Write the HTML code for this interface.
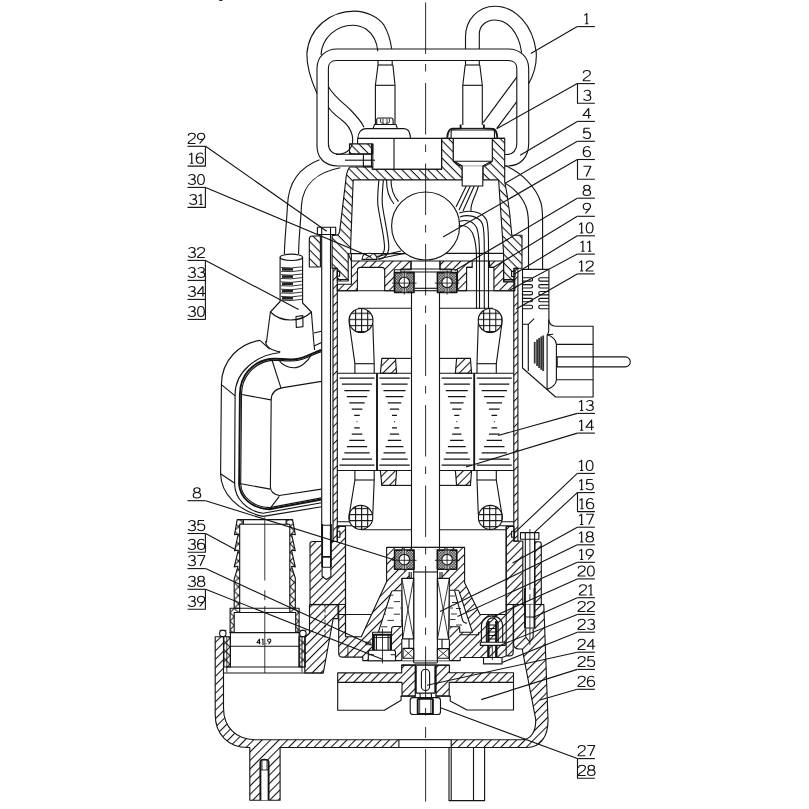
<!DOCTYPE html>
<html><head><meta charset="utf-8"><title>pump</title><style>
html,body{margin:0;padding:0;background:#fff;font-family:"Liberation Sans",sans-serif;}
svg{display:block}
svg path,svg circle,svg ellipse,svg line,svg rect{stroke:#141414;stroke-width:1.12;fill:none;stroke-linejoin:round}
svg .t path{stroke-width:1}
svg .nf{fill:none}
svg .w{fill:#fff}
svg .k{stroke-width:1.9}
svg .th{stroke-width:0.85}
svg .ns{stroke:none}
svg .lm{stroke-width:1.25}
svg text{font-family:"Liberation Sans",sans-serif;fill:#111;stroke:none}
</style></head><body>
<svg width="809" height="809" viewBox="0 0 809 809">
<rect class="ns" x="0" y="0" width="809" height="809" style="fill:#fff;stroke:none"/>

<defs>
<pattern id="h5" width="6.0" height="6.0" patternUnits="userSpaceOnUse" patternTransform="rotate(-45)"><line x1="0" y1="0.5" x2="6.0" y2="0.5" stroke="#222" stroke-width="0.9"/></pattern>
<pattern id="h6" width="6.0" height="6.0" patternUnits="userSpaceOnUse" patternTransform="rotate(-45)"><line x1="0" y1="0.5" x2="6.0" y2="0.5" stroke="#222" stroke-width="0.9"/></pattern>
<pattern id="h4" width="6.1" height="6.1" patternUnits="userSpaceOnUse" patternTransform="rotate(-45)"><line x1="0" y1="0.5" x2="6.1" y2="0.5" stroke="#222" stroke-width="0.9"/></pattern>
<pattern id="b5" width="6.1" height="6.1" patternUnits="userSpaceOnUse" patternTransform="rotate(45)"><line x1="0" y1="0.5" x2="6.1" y2="0.5" stroke="#222" stroke-width="0.9"/></pattern>
<pattern id="grid" width="6.1" height="6.1" patternUnits="userSpaceOnUse" patternTransform="translate(1.2 1.6)"><path d="M0 0.5H6.1M0.5 0V6.1"/></pattern>
<pattern id="xh" width="8.6" height="8.6" patternUnits="userSpaceOnUse" patternTransform="translate(229.9 2)"><path d="M0 0L8.6 8.6M8.6 0L0 8.6" style="stroke-width:1"/></pattern>
<pattern id="stip" width="1.6" height="1.6" patternUnits="userSpaceOnUse"><rect width="1.6" height="1.6" style="fill:#e4e4e4;stroke:none"/><rect width="0.8" height="0.8" style="fill:#222;stroke:none"/><rect x="0.8" y="0.8" width="0.8" height="0.8" style="fill:#222;stroke:none"/></pattern>
</defs>
<g id="lower">
<path  style="fill:url(#h6)" d="M215.2 636.7H223.5V707.7C223.5 727 236 739.7 255 739.7H522.2C531 739.7 536.5 731 535.6 718.6L522.2 649H519Q513.6 649 513.6 643.8V604.5H543.8L548 719C548.5 737 540 747.5 526.9 747.5H280.1V800.3H249.8V747.5H248C228 747.5 215.2 734 215.2 714.6Z"/>
<path style="fill:#fff" d="M398.9 739.7H451.2V747.5H398.9Z"/>
<path  style="fill:url(#h6)" d="M309.5 604.7H338V618.6H333.2L323.3 673H304.8V636.7L309.5 633.3Z"/>
<path class="th" stroke-dasharray="3 2" d="M325 604.7V640"/>
<path d="M223.8 673.0L323.3 673.0"/>
<path class="k" style="fill:#fff" d="M260.4 800.3V762Q260.4 759.6 264.5 759.6Q268.6 759.6 268.6 762V800.3"/>
<path class="th" d="M260.4 770H268.6M262 761V770M267 761V770"/>
<path d="M449 747.5V800.6H484.6V747.5M451.2 747.5V800.6M473.5 747.5V800.6"/>
<path  style="fill:url(#h5)" d="M310 544Q310 541.5 312.5 541.5H337.3V526.5H345.5V604.5H310Z"/>
<path d="M310.0 604.5L338.6 604.5"/>
<path style="fill:#fff;stroke:none" d="M321.7 541H330.5V574.7L326.1 578.7L321.7 574.7Z"/>
<path class="k" d="M322.1 524V567.3M330.9 524V567.3M322.1 556.9H330.9"/>
<path d="M322.1 567.3V576.5L326.5 579.5L330.9 576.5V567.3M322.1 567.3H330.9M322.1 525.3H330.9"/>
<path style="fill:#fff" d="M337.3 531.3H339.9V537.3H337.3Z"/>
<path  style="fill:url(#h5)" d="M506.2 526.5H514V541H522.8V604.5H506.2Z"/>
<path  style="fill:url(#h5)" d="M534.9 604.5V541.8H538.8Q541.3 541.8 541.3 544.3V604.5Z"/>
<path style="fill:#fff" d="M511.6 531.3H514.5V537.3H511.6Z"/>
<path d="M513.2 604.5L543.8 604.5"/>
<path style="fill:#fff" d="M520.5 532.6H538.9V539.3H520.5Z"/>
<path d="M525.3 532.6V539.3M534.6 532.6V539.3"/>
<path style="fill:#fff;stroke:none" d="M525 604.5H534.5V637L529.8 642L525 637Z"/>
<path d="M525.3 539.3V590M534.6 539.3V590"/>
<path class="k" d="M525 588V628.5M534.5 588V628.5"/>
<path d="M525.7 628.5V637.1L529.8 642L533.2 637.1V628.5"/>
<path d="M525.3 617H534.6M525.3 628H534.6"/>
<path class="th" d="M529.9 529V590M529.9 594V600M529.9 604V645"/>
<path  style="fill:url(#h5)" d="M386.6 547.4H464.6V582.8L480 614.5H506.2V604.5H513.2V652.5Q513.2 655.9 509.5 655.9H506.2L502 657.5H460.2V660.6H362.8V657.1H342Q338.7 657.1 338.7 653V604.5H345.5V636.7H361.3L386.6 581.8Z"/>
<path d="M345.5 526.5L345.5 636.7"/>
<path d="M506.2 526.5L506.2 655.9"/>
<path d="M338.9 614.5L371.6 614.5"/>
<path style="fill:#fff" d="M393 590.7H401.8V626.5H394.4Q391.6 626.5 391.6 629V632.3H378.3L391.2 592.5Q391.8 590.7 393 590.7Z"/>
<path style="fill:#fff" d="M458.2 590.2H449.4V626.8H459.7V632.3H472.5L459.2 591.7Q458.8 590.2 458.2 590.2Z"/>
<path d="M478.5 632.3V634.7H459.7"/>
<path d="M454.7 591.2L462.6 620.4Q463.5 623 467 623.3"/>
<path class="th" d="M390 595.2H393.4M400.8 595.2H402M393.8 601.6H400M387.4 608H393.4M400.3 608H402M384.5 614.2H386M393.8 614.2H400M387.4 620.4H394M400.8 620.4H402M381 626.8H387.4"/>
<path class="th" d="M450 596H455M452 602.5H458M449.5 608H453M456 608.5H461M451 614H457M450 619.5H455.5M456 625H462"/>
<path style="fill:#fff;stroke:none" d="M409.2 569.9H442V578.4H449.4V660.6H401.8V578.4H409.2Z"/>
<path style="fill:#fff;stroke:none" d="M394 549.5H457.4V569.9H394Z"/>
<path style="fill:#fff;stroke:none" d="M411.5 546.6H439.5V549.5H411.5Z"/>
<path d="M411.5 547.4L439.5 547.4"/>
<path d="M411.5 547.4V549.5M439.5 547.4V549.5"/>
<path d="M413.7 549.5V662.8M437.4 549.5V662.8"/>
<path d="M413.7 572.0L437.4 572.0"/>
<path style="stroke-width:1.6;fill:url(#stip)" d="M394.6 550.1H414.0V569.3H394.6Z"/>
<path style="fill:#fff;fill-opacity:0.5;stroke:none" d="M402.1 550.3H406.5V569.1H402.1Z"/>
<circle style="fill:#fff" cx="404.3" cy="559.7" r="5.3"/>
<path class="th" d="M404.3 548.0L404.3 571.4"/>
<path class="th" d="M392.0 560.3L416.6 560.3"/>
<path style="stroke:#555;stroke-width:0.7" d="M402.1 549.5V554.9M406.5 549.5V554.9M402.1 564.5V569.9M406.5 564.5V569.9"/>
<path style="stroke-width:1.6;fill:url(#stip)" d="M437.4 550.1H456.8V569.3H437.4Z"/>
<path style="fill:#fff;fill-opacity:0.5;stroke:none" d="M444.9 550.3H449.3V569.1H444.9Z"/>
<circle style="fill:#fff" cx="447.1" cy="559.7" r="5.3"/>
<path class="th" d="M447.1 548.0L447.1 571.4"/>
<path class="th" d="M434.8 560.3L459.4 560.3"/>
<path style="stroke:#555;stroke-width:0.7" d="M444.9 549.5V554.9M449.3 549.5V554.9M444.9 564.5V569.9M449.3 564.5V569.9"/>
<path d="M409.2 572V578.4H411.2V572M440 572V578.4H442 V572"/>
<path style="fill:#fff" d="M401.8 578.4H413.7L413.7 638.9H402.6Z"/>
<path class="th" d="M401.8 578.4L413.7 638.9M413.7 578.4L402.6 638.9"/>
<path style="fill:#fff" d="M437.4 578.4H449.4L448.6 639.2H437.4Z"/>
<path class="th" d="M437.4 578.4L448.6 639.2M449.4 578.4L437.4 639.2"/>
<path d="M409 638.9V648.4M442 639.2V648.4"/>
<path style="fill:#fff" d="M403.0 648.4H413.7L413.7 658.2H403.0Z"/>
<path class="th" d="M403.0 648.4L413.7 658.2M413.7 648.4L403.0 658.2"/>
<path style="fill:#fff" d="M437.4 648.6H449.0L449.0 658.3H437.4Z"/>
<path class="th" d="M437.4 648.6L449.0 658.3M449.0 648.6L437.4 658.3"/>
<path d="M401.8 638.9V660.6M449.4 639.2V660.6"/>
<path style="fill:#fff;stroke:none" d="M372.6 632.3H391.4V651H372.6Z"/>
<path d="M372.6 651V632.3H391.4V651"/>
<path class="k" d="M373.9 634.8H390.6V653.4H373.9Z"/>
<path d="M376.4 634.8V653.4M388.1 634.8V653.4"/>
<path class="th" d="M373.9 637.5H390.6M373.9 650.3H390.6"/>
<path style="fill:#fff" d="M368.3 652.5Q368.3 650.3 370.5 650.3H393.3Q395.5 650.3 395.5 652.5V660.8H368.3Z"/>
<path d="M368.3 654.8H373.9M390.6 654.8H395.5"/>
<path class="th" d="M382.5 628.7V663.3"/>
<path class="th" d="M347.9 644.7V657.1M365.8 642.2H370.8V644.7H365.8Z"/>
<path d="M481.4 642.2V626.5C481.4 620 486 615.9 492 615.9C498 615.9 502.7 620 502.7 626.5V642.2"/>
<path d="M486.4 642.2V626C486.4 621 489 617.9 492.2 617.9C495.4 617.9 498.2 621 498.2 626V642.2"/>
<path class="" style="stroke-width:2.4" d="M488.4 621V642.2M496.3 621V642.2"/>
<path d="M488.4 625H496.3M488.4 628.5H496.3M488.4 632H496.3M488.4 635.5H496.3M488.4 639H496.3"/>
<path style="fill:#fff" d="M480.3 642.2H505.2V645.4H480.3Z"/>
<path style="fill:#fff" d="M483.5 657.5H502V663.9H483.5Z"/>
<path class="" style="stroke-width:2.4" d="M488.4 645.4V657.5M496.3 645.4V657.5"/>
<path class="th" d="M492.3 646V660"/>
<path  style="fill:url(#h6)" d="M337.7 672.9H401.7V665.1H415.3V696H402V682.4H337.7Z"/>
<path d="M337.7 682.4V710.2H384.4L401.1 700.3V696"/>
<path  style="fill:url(#h6)" d="M513.5 672.8H449.4V665.2H436V696H449.2V682.4H513.5Z"/>
<path d="M513.5 682.4V710H467L450.2 701V696"/>
<path d="M401.5 665.1H449.5M415.8 693.1H435.3M400.6 696.1H415.8M435.3 696.1H450.4"/>
<path class="k" d="M415.8 666V693.1M435.3 666V693.1"/>
<path class="th" d="M413.7 662.8H437.4M414.5 664H436.6"/>
<rect x="421.4" y="669.3" width="8.2" height="21.2" rx="4.1" ry="4.1"/>
<path d="M420.1 693.1V698M431.4 693.1V698"/>
<rect style="fill:#fff" x="410.2" y="697.6" width="30.3" height="16.9" rx="2.8" ry="2.8"/>
<path class="k" d="M417.7 698.7V714M432.9 698.7V714M417.7 698.7H432.9M417.7 714H432.9"/>
<path class="th" d="M419.7 698.7V714M430.9 698.7V714"/>
</g>
<g id="outlet">
<path  style="fill:url(#xh)" d="M237.2 519.6L234.5 534.7L238.3 534.1L234.5 550.8L238.3 550.2L234.2 566.9L238 566.3L234.2 579.2V608.2H239.7V524.2L243.4 524.2L243.4 519.6Z"/>
<path  style="fill:url(#xh)" d="M292.6 519.6L295.3 534.7L291.5 534.1L295.3 550.8L291.5 550.2L295.3 566.9L291.5 566.3L295.3 578V608.2H289.8V524.2L286.1 524.2L286.1 519.6Z"/>
<path d="M237.2 519.6L292.6 519.6"/>
<path d="M243.4 524.2L286.1 524.2"/>
<path  style="fill:url(#xh)" d="M230.1 608.2H239.7V612.5H234.2V632.4H230.1Z"/>
<path  style="fill:url(#xh)" d="M299.1 608.2H289.8V612.5H295.7V632.4H299.1Z"/>
<path d="M239.7 608.2L289.8 608.2"/>
<path d="M234.2 612.5L295.7 612.5"/>
<path d="M229.5 632.6L300.0 632.6"/>
<circle cx="222.8" cy="633.5" r="3.2"/>
<circle cx="302.9" cy="633.5" r="3.2"/>
<path class="th" d="M219.5 630.3H226.5M299.8 630.3H306.5"/>
<path  style="fill:url(#xh)" d="M223.8 636.7H230.4V667H223.8Z"/>
<path  style="fill:url(#xh)" d="M299.1 636.7H305.2V667H299.1Z"/>
<path class="th" d="M226.8 636.7V672.5M302 636.7V672.5"/>
<path d="M230.4 646.3L299.1 646.3"/>
<path d="M226.0 667.0L303.5 667.0"/>
<path d="M230.4 632.6V667M299.1 632.6V667"/>
<path class="th" d="M264.8 517.4V580.5M264.8 590.3V600.2M264.8 606V673"/>
<path style="stroke-width:1.9" transform="translate(256.80 639) scale(0.55 0.52)" d="M4.9 10V0L.3 7H6.8"/>
<path style="stroke-width:1.9" transform="translate(261.00 639) scale(0.55 0.52)" d="M1.6 1.8L3.6 0V10M2.3 10H4.9"/>
<rect x="265.4" y="643.2" width="1" height="1" style="fill:#111;stroke:none"/>
<path style="stroke-width:1.9" transform="translate(267.40 639) scale(0.55 0.52)" d="M2.2 10L5.6 5.2C6.1 4.4 6.3 3.8 6.3 3.1C6.3 1.3 5.1 0 3.4 0C1.7 0 .5 1.3 .5 3.1C.5 4.9 1.7 6.1 3.3 6.1C4.3 6.1 5.2 5.7 5.8 4.9"/>
</g>
<g id="mid">
<path  style="fill:url(#b5)" d="M349.6 167H372.2V169.3H441.6V138.4H453.4V160.7L462.3 166V179.9H353.2L350.7 244V253.7H348.2V281H337.3V268.2H332.1V235.6L335.5 235.3C338 235.3 339 234.5 339.6 231.6L345.6 182C346 175 347.5 170 349.6 167Z"/>
<path  style="fill:url(#b5)" d="M320.4 236H312.5Q309.3 236 309.3 239.2V267H320.4Z"/>
<path  style="fill:url(#b5)" d="M483 179.9V166L492.2 160.7V138.4H504.7V181.7C508 198 510.3 216 511.8 235.3H522V268.2H514.8V281H503.6V253.4L498.6 179.9Z"/>
<path d="M348.2 253.7L351.4 261.0"/>
<path class="w" d="M317.4 227.2H335.7V234.5H317.4Z"/>
<path d="M321.7 227.2L321.7 234.5"/>
<path d="M330.5 227.2L330.5 234.5"/>
<path d="M321.7 234.5V540M330.5 234.5V540"/>
<path style="fill:#fff" d="M337.3 271.4H339.6V276.2H337.3Z"/>
<path style="fill:#fff" d="M511.6 271.4H514.8V276.6H511.6Z"/>
<circle cx="425.6" cy="226" r="34"/>
<path d="M351.4 261V253.6H405.5M445.8 253.4H503.6"/>
<path  style="fill:url(#h5)" d="M351.4 261H411V269.8H394.3V290.7H384.7V270.4Q384.7 267.4 381.7 267.4H360.4Q357.4 267.4 357.4 270.4V290.7H337.3V284.3H351.4Z"/>
<path  style="fill:url(#h5)" d="M440 261H472.2V267.4H466.6V290.7H457.5V269.8H440Z"/>
<path  style="fill:url(#h5)" d="M489.5 261H503.6V281.9H514.8V290.7H493.9V267.4H489.5Z"/>
<path d="M472.2 261.0L489.5 261.0"/>
<path d="M466.6 267.4H472M489.5 267.4H493.9"/>
<path d="M337.3 279.5L348.2 279.5"/>
<path d="M503.6 279.5L514.8 279.5"/>
<path d="M337.3 290.7L394.0 290.7"/>
<path d="M457.5 290.7L514.8 290.7"/>
<path d="M411 261H440M411 261V269M440 261V269"/>
<path d="M400.9 269H451.3V272H400.9Z"/>
<path style="stroke-width:1.6;fill:url(#stip)" d="M394.6 272.6H414.0V292.4H394.6Z"/>
<path style="fill:#fff;fill-opacity:0.5;stroke:none" d="M402.1 272.8H406.5V292.2H402.1Z"/>
<circle style="fill:#fff" cx="404.3" cy="282.5" r="5.3"/>
<path class="th" d="M404.3 270.5L404.3 294.5"/>
<path class="th" d="M392.0 283.1L416.6 283.1"/>
<path style="stroke:#555;stroke-width:0.7" d="M402.1 272.0V277.7M406.5 272.0V277.7M402.1 287.3V293.0M406.5 287.3V293.0"/>
<path style="stroke-width:1.6;fill:url(#stip)" d="M437.4 272.6H456.8V292.4H437.4Z"/>
<path style="fill:#fff;fill-opacity:0.5;stroke:none" d="M444.9 272.8H449.3V292.2H444.9Z"/>
<circle style="fill:#fff" cx="447.1" cy="282.5" r="5.3"/>
<path class="th" d="M447.1 270.5L447.1 294.5"/>
<path class="th" d="M434.8 283.1L459.4 283.1"/>
<path style="stroke:#555;stroke-width:0.7" d="M444.9 272.0V277.7M449.3 272.0V277.7M444.9 287.3V293.0M449.3 287.3V293.0"/>
<path d="M414.6 288.3L436.8 288.3"/>
<path d="M414.6 290.7L436.8 290.7"/>
<path class="w" d="M362 259.4C362 255 365 253.2 369.5 253.2C374 253.2 377 255 377 259.4Z"/>
<path class="th" d="M366 254.5L372.5 258.5M372.5 254.5L366 258.5"/>
<path d="M378.9 180C378 190 377 198 378 206C380 220 384 235 384.5 246C384.8 252 382 256 377.5 257.5"/>
<path d="M383.4 180C382.5 190 381.5 198 382.5 206C384.5 220 388.3 235 388.8 246C389 253 386 258 378.5 259.5"/>
<path d="M386.5 180C386.5 192 389 198 394 204M391 180C391 190 393.5 196 398.5 201.5"/>
<path d="M377 256.5L401 251M377.5 259L404 253.5"/>
<path d="M466.5 185.4L456 207M470.5 185.4L459 210M474.5 185.4L463 211M478.5 185.4C476 196 470 203 471 211"/>
<path d="M459.3 213C468 209.5 482 211 486.5 220C488.8 226 488.5 240 488.5 252V309"/>
<path d="M459.8 217C468 214 479 216 482.5 224C484.6 230 484.3 242 484.3 254V309"/>
<path d="M459.5 221.5C466 219 473.5 221 476.8 228C479 234 479.5 244 479.5 256V309"/>
<path d="M458.5 226C464 224.5 469 227 472.5 233C475.5 240 476.5 248 476.5 258V309"/>
<path  style="fill:url(#h4)" d="M333 268.2H337.3V541.5H333Z"/>
<path  style="fill:url(#h4)" d="M513.8 268.2H517.9V541.3H513.8Z"/>
</g>
<g id="top">
<path d="M391.7 49C390.5 40 388 32 384 25.2C378 17 366 11.1 354.3 11.1C330 11.1 309 28 306.9 53.4C306.5 66 311 80 317 93.4"/>
<path d="M377.8 51.2C377 42 373 34 366 29C361 26 357 25.2 352.8 25.2C337 25.2 322 37 321 54.9"/>
<path d="M465.5 49V37C465.5 20 478 6.2 494.9 6.2C515 6.2 533 25 536.2 52C537 63 534 74 528.7 83.8"/>
<path d="M479.3 49V34C479.3 26 486 20 494.9 20C508 20 519 33 521.6 52.7"/>
<path d="M378 60.5V65M392.2 60.5V65M465.5 60.5V65M479.3 60.5V65"/>
<path d="M328.6 87C335 98 345 104 350.6 110C356 115.5 361 121 364 127.2"/>
<path d="M328.6 107.5C333 114 338 117 341.7 120C347 124 351 130 352.3 135.6C353.2 141 352.5 145.5 350 148.8C347 152.6 342 154.3 336.1 154.4"/>
<path d="M516.8 77.1L483.2 122.6"/>
<path d="M516.8 101.6L496.8 128.4"/>
<path d="M372.2 166H338C325 166 317 158 317 146V68.5C317 57 325.5 49 337 49H508.2C520 49 528.7 57 528.7 68.5V143C528.7 157 521 166 507 166H504.7"/>
<path d="M372.2 154.2H338.5C332.5 154.2 328.4 150 328.4 144V68.2C328.4 63.5 331.5 60.5 336 60.5H508.2C513.5 60.5 516.8 63.5 516.8 68.2V144C516.8 150 512.9 154.5 506.9 154.5H504.7"/>
<path d="M345.0 160.2L375.0 160.2"/>
<path d="M319.5 159.7C300 167 288.5 182 287.5 205C286.5 225 284.5 240 284.4 254"/>
<path d="M340.3 167.8C318 172 303 184 301.5 205C300.5 225 298.6 240 298.6 254"/>
<path d="M505.5 165.8C520 172 536 186 541 203C542.6 209 542.6 214 542.6 222V269"/>
<path d="M505 183.2C514 188 524 198 527 210C528.5 216 528.5 220 528.5 226V269"/>
<path d="M378 65L375.4 85.3V124.5M392.9 65L395 85.3V124.5"/>
<path d="M378.0 65.0L392.9 65.0"/>
<path d="M375.5 85.3L394.7 85.3"/>
<path d="M465.2 65L462.8 85.3V125M479.8 65L482.3 85.3V125"/>
<path d="M465.2 65.0L479.8 65.0"/>
<path d="M462.8 85.3L482.3 85.3"/>
<path d="M357.8 138.4C358 133 361 128.6 366 128.6H404C409 128.6 410.3 133 410.5 138.4"/>
<path d="M373.1 128.4L374.5 124.5H396L397.3 128.4"/>
<path d="M376.7 124.5V120Q376.7 118 378.7 118H391.1Q393.1 118 393.1 120V124.5"/>
<path class="th" d="M380.6 118.6V122.3L385 124.4L389.4 122.3V118.6M383 118.6V123.2M387 118.6V123.2"/>
<path d="M357.6 138.4H441.6V169.3H372.2"/>
<path d="M357.6 138.4L357.6 144.1"/>
<path d="M394.0 138.4L394.0 169.3"/>
<path d="M372.8 143.9L372.8 168.6"/>
<path  style="fill:url(#b5)" d="M349.5 143.9H372.8V153.9H349.5Z"/>
<path d="M363.4 153.9V166.7H372.8M371.5 143.9V166.7"/>
<path style="fill:#fff;stroke:none" d="M451.1 130H494.5V138.4H492.3V161.2H453.3V138.4H451.1Z"/>
<path d="M453.3 138.4V161.2H492.3V138.4"/>
<path d="M453.3 161.2C456 164 459 166.2 462.2 166.2H482.8C486 166.2 489.5 164 492.3 161.2"/>
<path d="M441.7 138.4L504.6 138.4"/>
<path class="w" d="M462.2 166.2V186H482.8V166.2"/>
<path class="k" d="M447.2 137.8C447.5 133 449 129.5 452.2 128.7L460.6 128.4V124.5M497.3 137.8C497 133 495.5 129.6 493.4 128.9L483.9 128.4V124.5"/>
<path d="M451.1 138.4V132Q451.1 130 453 130H492.5Q494.5 130 494.5 132V138.4"/>
<path d="M460.6 128.4L483.9 128.4"/>
</g>
<g id="motor">
<path d="M411.5 293V547.4M439.5 293V547.4"/>
<path d="M358.0 308.2L411.5 308.2"/>
<path d="M439.5 308.2L493.0 308.2"/>
<path d="M337.3 373.2L411.5 373.2"/>
<path d="M439.5 373.2L513.8 373.2"/>
<path d="M337.3 470.5L411.5 470.5"/>
<path d="M439.5 470.5L513.8 470.5"/>
<path class="k" d="M377 373.2V470.5M474.2 373.2V470.5"/>
<path class="lm" d="M339.5 378.0H374.5M341.9 384.2H372.1M344.4 390.5H369.6M346.8 396.7H367.2M349.3 402.9H364.7M351.7 409.1H362.3M354.2 415.4H359.8M356.6 421.6H357.4M354.2 427.8H359.8M351.7 434.1H362.3M349.3 440.3H364.7M346.8 446.5H367.2M344.4 452.8H369.6M341.9 459.0H372.1M339.5 465.2H374.5"/>
<path class="lm" d="M379.3 378.0H409.7M381.4 384.2H407.6M383.5 390.5H405.5M385.6 396.7H403.4M387.8 402.9H401.2M389.9 409.1H399.1M392.0 415.4H397.0M394.1 421.6H394.9M392.0 427.8H397.0M389.9 434.1H399.1M387.8 440.3H401.2M385.6 446.5H403.4M383.5 452.8H405.5M381.4 459.0H407.6M379.3 465.2H409.7"/>
<path class="lm" d="M441.6 378.0H472.0M443.7 384.2H469.9M445.8 390.5H467.8M447.9 396.7H465.7M450.1 402.9H463.5M452.2 409.1H461.4M454.3 415.4H459.3M456.4 421.6H457.2M454.3 427.8H459.3M452.2 434.1H461.4M450.1 440.3H463.5M447.9 446.5H465.7M445.8 452.8H467.8M443.7 459.0H469.9M441.6 465.2H472.0"/>
<path class="lm" d="M476.8 378.0H511.8M479.2 384.2H509.4M481.7 390.5H506.9M484.1 396.7H504.5M486.6 402.9H502.0M489.0 409.1H499.6M491.5 415.4H497.1M493.9 421.6H494.7M491.5 427.8H497.1M489.0 434.1H499.6M486.6 440.3H502.0M484.1 446.5H504.5M481.7 452.8H506.9M479.2 459.0H509.4M476.8 465.2H511.8"/>
<path  style="fill:url(#h5)" d="M381.8 358.4H395.5L396.6 373.2H380.4Z"/>
<path d="M395.5 358.4L411.5 358.4"/>
<path  style="fill:url(#h5)" d="M456.6 358.4H470.4L471.6 373.2H455.4Z"/>
<path d="M439.5 358.4L456.6 358.4"/>
<path  style="fill:url(#h5)" d="M380.4 470.5H396.6L395.5 485.4H381.8Z"/>
<path d="M395.5 485.4L411.5 485.4"/>
<path  style="fill:url(#h5)" d="M455.4 470.5H471.6L470.4 485.4H456.6Z"/>
<path d="M439.5 485.4L456.6 485.4"/>
<path d="M349.3 323.5L354.9 363.7V373.2M372.8 323.5L374.2 363.7V373.2"/>
<path d="M354.9 363.7L374.2 363.7"/>
<path d="M478.3 323.5L477 363.7V373.2M501.9 323.5L496.3 363.7V373.2"/>
<path d="M477.0 363.7L496.3 363.7"/>
<circle style="fill:url(#grid)" cx="361" cy="320.5" r="12"/>
<circle style="fill:url(#grid)" cx="490.2" cy="320.5" r="12"/>
<path d="M354.9 470.5V480L349.3 514.5M374.2 470.5V480L372.8 514.5"/>
<path d="M354.9 480.0L374.2 480.0"/>
<path d="M477 470.5V480L478.3 514.5M496.3 470.5V480L501.9 514.5"/>
<path d="M477.0 480.0L496.3 480.0"/>
<circle style="fill:url(#grid)" cx="360.8" cy="517.4" r="12"/>
<circle style="fill:url(#grid)" cx="490.4" cy="517.4" r="12"/>
<path d="M361.0 529.7L411.5 529.7"/>
<path d="M439.5 529.7L506.2 529.7"/>
<path d="M337.3 521.7H349.6M337.3 525.7H352"/>
<path d="M502 521.7H513.8M499.5 525.7H513.8"/>
</g>
<g id="float">
<path d="M260 340.4C240 343 221.4 360 221.4 384.6L220.6 473.8C221 494 238 511 263.2 516.4L321.5 506.8"/>
<path d="M280.1 352.5C256 355 235.1 372 235.1 394.3L234.6 484C235 499 247 511 263.2 513.2L321.5 502.8"/>
<path class="k" d="M321.5 350C314 352 305 358.5 295 359.3C285 360 278 358 269.6 359C252 362 239.9 376 239.9 394.3L239.1 484.3C240 498 252 508.5 269.6 509.2L321.5 499.5"/>
<path d="M321.5 351.6C314 353.6 305 360 295 360.8C285 361.5 278 359.6 270 360.6C253.5 363.6 241.5 377 241.5 394.5L240.7 484.3C241.5 496.8 253 507 269.8 507.6L321.5 497.9"/>
<path d="M321.5 381.4L283 387.6Q271.2 389.6 271.2 400L270.4 487Q270.4 493.5 279.3 495.5L321.5 489.1"/>
<path d="M272 360L280.9 387.9M240.5 394.3L271 399.9M221.4 384.6L235.1 395.9M260 340.4L269.6 349.2M220.6 473.8L235.1 483.5M239.5 483.5L270.4 489.1M279.3 496.3L269.6 509.2"/>
<path d="M266.4 342.5L265.6 341.5C266 347 272 350.5 280.3 351.8"/>
<path d="M279.3 360.5C282 365 288 367.8 293.7 367.8C300 367.8 308 362 311.4 354.5"/>
<path d="M313.8 342.5L314.6 350M313.8 333L321.5 331.2M314.6 345.8L321.5 342.5"/>
<path style="fill:#fff;stroke:none" d="M270.4 312L266.4 342.5H313.8L311.4 312L302.6 303V257.3C302.6 255.5 297 254.1 291.4 254.1C285.8 254.1 280.1 255.5 280.1 257.3V301.5Z"/>
<path d="M266.4 342.5L270.4 312L280.1 301.5V257.3C280.1 255.5 285.8 254.1 291.4 254.1C297 254.1 302.6 255.5 302.6 257.3V303L311.4 312L313.8 342.5"/>
<path d="M280.1 257.3C280.1 259.2 285.5 260.5 291.4 260.5C297.3 260.5 302.6 259.2 302.6 257.3"/>
<path d="M270.4 312C276 317.5 284 320 290.5 320C298 320 306 317.5 311.4 312"/>
<path style="fill:#222;stroke:none" d="M282 268.1H293V270.7H282Z"/>
<path class="th" d="M281 267.5Q291 268.8 302 266.8M281 271.3Q291 272.4 302 270.4"/>
<path style="fill:#222;stroke:none" d="M282 275.3H293V277.9H282Z"/>
<path class="th" d="M281 274.7Q291 276.0 302 274.0M281 278.5Q291 279.6 302 277.6"/>
<path style="fill:#222;stroke:none" d="M282 282.5H293V285.1H282Z"/>
<path class="th" d="M281 281.9Q291 283.2 302 281.2M281 285.7Q291 286.8 302 284.8"/>
<path style="fill:#222;stroke:none" d="M282 289.8H293V292.4H282Z"/>
<path class="th" d="M281 289.2Q291 290.5 302 288.5M281 293.0Q291 294.1 302 292.1"/>
<path style="fill:#222;stroke:none" d="M282 297.0H293V299.6H282Z"/>
<path class="th" d="M281 296.4Q291 297.7 302 295.7M281 300.2Q291 301.3 302 299.3"/>
<path d="M296 316.5L302.8 315.6L303 326.6L296.3 327.5Z"/>
</g>
<g id="plug">
<path class="w" d="M522.5 269.4H548.9V319.5Q548.9 326.2 556.4 326.2H593.1V397H555.6L522.5 368Z"/>
<path d="M522.5 277.7H530.9A1.7 1.7 0 0 1 530.9 281.1H522.5"/>
<path d="M548.9 277.7H540.4A1.7 1.7 0 0 0 540.4 281.1H548.9"/>
<path d="M522.5 284.6H530.9A1.7 1.7 0 0 1 530.9 288.0H522.5"/>
<path d="M548.9 284.6H540.4A1.7 1.7 0 0 0 540.4 288.0H548.9"/>
<path d="M522.5 291.5H530.9A1.7 1.7 0 0 1 530.9 294.9H522.5"/>
<path d="M548.9 291.5H540.4A1.7 1.7 0 0 0 540.4 294.9H548.9"/>
<path d="M522.5 298.4H530.9A1.7 1.7 0 0 1 530.9 301.8H522.5"/>
<path d="M548.9 298.4H540.4A1.7 1.7 0 0 0 540.4 301.8H548.9"/>
<path d="M522.5 305.3H530.9A1.7 1.7 0 0 1 530.9 308.7H522.5"/>
<path d="M548.9 305.3H540.4A1.7 1.7 0 0 0 540.4 308.7H548.9"/>
<path d="M548.7 319.5V330.7Q548.7 333.5 547.1 334.7M547.1 334.7L553.2 334.2"/>
<path d="M547.1 334.7V389.4"/>
<path d="M547.1 334.7C552 336 556.4 340 556.4 344.4V379.7C556.4 384 552 388 547.1 389.4"/>
<path d="M556.4 344.4H593.1M556.4 379.7H593.1"/>
<path style="fill:#fff" d="M557.2 356.9H625.3A5 5 0 0 1 625.3 366.9H557.2Z"/>
<path d="M593.1 356.9L593.1 366.9"/>
<path d="M522.4 324.3H528.3V370.9M528.3 324.3L534.2 318.7"/>
<path style="stroke:#333;stroke-width:1.8" d="M534.7 342V363.6M537.1 339.5V366M539.1 338V368M541.2 336.5V369.8M543.2 335.5V370.9"/>
</g>
<rect x="219.3" y="0" width="3.1" height="0.9" style="fill:#111;stroke:none"/>
<path class="th" style="stroke-width:0.9" stroke-dasharray="51.5 10 7.5 11.5" d="M425.6 2.5V738"/>
<path class="th" style="stroke-width:0.9" d="M425.6 749V801.5"/>
<g id="labels">
<g class="t"><path transform="translate(582.36 13.60) scale(1.233 1.020)" d="M1.6 1.8L3.6 0V10M2.3 10H4.9"/></g>
<path d="M577.3 26.6L594.9 26.6"/>
<path d="M577.3 26.6L530.8 53.5"/>
<g class="t"><path transform="translate(582.66 70.60) scale(1.233 1.020)" d="M.6 2.5C.6 .9 1.8 0 3.4 0C5 0 6.2 .9 6.2 2.5C6.2 4 5.3 5 3.6 6.2C1.6 7.6 .5 8.6 .5 10H6.4"/></g>
<path d="M577.3 83.6L594.9 83.6"/>
<g class="t"><path transform="translate(582.96 90.20) scale(1.233 1.020)" d="M.8 1.6C1.4 .6 2.3 0 3.4 0C5 0 6 1 6 2.4C6 3.8 5 4.7 3.2 4.7C5.2 4.7 6.3 5.8 6.3 7.3C6.3 8.9 5.1 10 3.4 10C2.1 10 1 9.4 .4 8.3"/></g>
<path d="M577.5 83.6V103.2H594.9"/>
<path d="M577.3 83.6L496.6 128.8"/>
<g class="t"><path transform="translate(582.66 108.40) scale(1.233 1.020)" d="M4.9 10V0L.3 7H6.8"/></g>
<path d="M577.3 121.4L594.9 121.4"/>
<path d="M577.3 121.4L520.1 155.3"/>
<g class="t"><path transform="translate(582.66 128.30) scale(1.233 1.020)" d="M5.8 0H1.2L.8 4.5C1.4 3.8 2.4 3.5 3.4 3.5C5.1 3.5 6.3 4.8 6.3 6.7C6.3 8.6 5.1 10 3.4 10C2.1 10 1 9.4 .4 8.3"/></g>
<path d="M577.3 141.3L594.9 141.3"/>
<path d="M577.3 141.3L505.3 183.2"/>
<g class="t"><path transform="translate(582.66 146.50) scale(1.233 1.020)" d="M5.8 1.2C5.3 .4 4.5 0 3.6 0C1.5 0 .5 2.2 .5 5.5C.5 8.5 1.6 10 3.4 10C5.1 10 6.3 8.7 6.3 6.9C6.3 5.1 5.1 3.9 3.5 3.9C2 3.9 .7 5 .5 6.5"/></g>
<path d="M577.3 159.5L594.9 159.5"/>
<g class="t"><path transform="translate(582.96 166.30) scale(1.233 1.020)" d="M.4 0H6.4L2.6 10"/></g>
<path d="M577.5 159.5V179.3H594.9"/>
<path d="M577.3 159.5L443.0 237.0"/>
<g class="t"><path transform="translate(582.66 185.20) scale(1.233 1.020)" d="M3.4 0C1.9 0 .9 1 .9 2.3C.9 3.6 1.9 4.6 3.4 4.6C4.9 4.6 5.9 3.6 5.9 2.3C5.9 1 4.9 0 3.4 0ZM3.4 4.6C1.6 4.6 .4 5.7 .4 7.3C.4 8.9 1.6 10 3.4 10C5.2 10 6.4 8.9 6.4 7.3C6.4 5.7 5.2 4.6 3.4 4.6Z"/></g>
<path d="M577.3 198.2L594.9 198.2"/>
<path d="M577.3 198.2L455.0 270.5"/>
<g class="t"><path transform="translate(582.66 203.30) scale(1.233 1.020)" d="M2.2 10L5.6 5.2C6.1 4.4 6.3 3.8 6.3 3.1C6.3 1.3 5.1 0 3.4 0C1.7 0 .5 1.3 .5 3.1C.5 4.9 1.7 6.1 3.3 6.1C4.3 6.1 5.2 5.7 5.8 4.9"/></g>
<path d="M577.3 216.3L594.9 216.3"/>
<path d="M577.3 216.3L494.0 267.0"/>
<g class="t"><path transform="translate(577.21 222.80) scale(1.233 1.020)" d="M1.6 1.8L3.6 0V10M2.3 10H4.9"/><path transform="translate(585.56 222.80) scale(1.233 1.020)" d="M3.3 0C1.5 0 .6 2 .6 5C.6 8 1.5 10 3.3 10C5.1 10 6 8 6 5C6 2 5.1 0 3.3 0Z"/></g>
<path d="M577.3 235.8L594.9 235.8"/>
<path d="M577.3 235.8L513.7 274.6"/>
<g class="t"><path transform="translate(578.46 241.10) scale(1.233 1.020)" d="M1.6 1.8L3.6 0V10M2.3 10H4.9"/><path transform="translate(585.26 241.10) scale(1.233 1.020)" d="M1.6 1.8L3.6 0V10M2.3 10H4.9"/></g>
<path d="M577.3 254.1L594.9 254.1"/>
<path d="M577.3 254.1L510.0 290.0"/>
<g class="t"><path transform="translate(577.21 260.90) scale(1.233 1.020)" d="M1.6 1.8L3.6 0V10M2.3 10H4.9"/><path transform="translate(585.56 260.90) scale(1.233 1.020)" d="M.6 2.5C.6 .9 1.8 0 3.4 0C5 0 6.2 .9 6.2 2.5C6.2 4 5.3 5 3.6 6.2C1.6 7.6 .5 8.6 .5 10H6.4"/></g>
<path d="M577.3 273.9L594.9 273.9"/>
<path d="M577.3 273.9L516.2 309.0"/>
<g class="t"><path transform="translate(577.21 400.40) scale(1.233 1.020)" d="M1.6 1.8L3.6 0V10M2.3 10H4.9"/><path transform="translate(585.56 400.40) scale(1.233 1.020)" d="M.8 1.6C1.4 .6 2.3 0 3.4 0C5 0 6 1 6 2.4C6 3.8 5 4.7 3.2 4.7C5.2 4.7 6.3 5.8 6.3 7.3C6.3 8.9 5.1 10 3.4 10C2.1 10 1 9.4 .4 8.3"/></g>
<path d="M577.3 413.4L594.9 413.4"/>
<path d="M577.3 413.4L498.2 435.5"/>
<g class="t"><path transform="translate(577.21 420.10) scale(1.233 1.020)" d="M1.6 1.8L3.6 0V10M2.3 10H4.9"/><path transform="translate(585.56 420.10) scale(1.233 1.020)" d="M4.9 10V0L.3 7H6.8"/></g>
<path d="M577.3 433.1L594.9 433.1"/>
<path d="M577.3 433.1L466.0 467.0"/>
<g class="t"><path transform="translate(577.21 460.40) scale(1.233 1.020)" d="M1.6 1.8L3.6 0V10M2.3 10H4.9"/><path transform="translate(585.56 460.40) scale(1.233 1.020)" d="M3.3 0C1.5 0 .6 2 .6 5C.6 8 1.5 10 3.3 10C5.1 10 6 8 6 5C6 2 5.1 0 3.3 0Z"/></g>
<path d="M577.3 473.4L594.9 473.4"/>
<path d="M577.3 473.4L514.8 532.7"/>
<g class="t"><path transform="translate(577.21 479.60) scale(1.233 1.020)" d="M1.6 1.8L3.6 0V10M2.3 10H4.9"/><path transform="translate(585.56 479.60) scale(1.233 1.020)" d="M5.8 0H1.2L.8 4.5C1.4 3.8 2.4 3.5 3.4 3.5C5.1 3.5 6.3 4.8 6.3 6.7C6.3 8.6 5.1 10 3.4 10C2.1 10 1 9.4 .4 8.3"/></g>
<path d="M577.3 492.6L594.9 492.6"/>
<g class="t"><path transform="translate(577.51 498.60) scale(1.233 1.020)" d="M1.6 1.8L3.6 0V10M2.3 10H4.9"/><path transform="translate(585.86 498.60) scale(1.233 1.020)" d="M5.8 1.2C5.3 .4 4.5 0 3.6 0C1.5 0 .5 2.2 .5 5.5C.5 8.5 1.6 10 3.4 10C5.1 10 6.3 8.7 6.3 6.9C6.3 5.1 5.1 3.9 3.5 3.9C2 3.9 .7 5 .5 6.5"/></g>
<path d="M577.5 492.6V511.6H594.9"/>
<path d="M577.3 492.6L534.1 532.7"/>
<g class="t"><path transform="translate(577.21 514.20) scale(1.233 1.020)" d="M1.6 1.8L3.6 0V10M2.3 10H4.9"/><path transform="translate(585.56 514.20) scale(1.233 1.020)" d="M.4 0H6.4L2.6 10"/></g>
<path d="M577.3 527.2L594.9 527.2"/>
<path d="M577.3 527.2L512.6 563.0"/>
<g class="t"><path transform="translate(577.21 531.80) scale(1.233 1.020)" d="M1.6 1.8L3.6 0V10M2.3 10H4.9"/><path transform="translate(585.56 531.80) scale(1.233 1.020)" d="M3.4 0C1.9 0 .9 1 .9 2.3C.9 3.6 1.9 4.6 3.4 4.6C4.9 4.6 5.9 3.6 5.9 2.3C5.9 1 4.9 0 3.4 0ZM3.4 4.6C1.6 4.6 .4 5.7 .4 7.3C.4 8.9 1.6 10 3.4 10C5.2 10 6.4 8.9 6.4 7.3C6.4 5.7 5.2 4.6 3.4 4.6Z"/></g>
<path d="M577.3 544.8L594.9 544.8"/>
<path d="M577.3 544.8L440.0 611.5"/>
<g class="t"><path transform="translate(577.21 549.30) scale(1.233 1.020)" d="M1.6 1.8L3.6 0V10M2.3 10H4.9"/><path transform="translate(585.56 549.30) scale(1.233 1.020)" d="M2.2 10L5.6 5.2C6.1 4.4 6.3 3.8 6.3 3.1C6.3 1.3 5.1 0 3.4 0C1.7 0 .5 1.3 .5 3.1C.5 4.9 1.7 6.1 3.3 6.1C4.3 6.1 5.2 5.7 5.8 4.9"/></g>
<path d="M577.3 562.3L594.9 562.3"/>
<path d="M577.3 562.3L457.5 616.5"/>
<g class="t"><path transform="translate(577.51 565.90) scale(1.233 1.020)" d="M.6 2.5C.6 .9 1.8 0 3.4 0C5 0 6.2 .9 6.2 2.5C6.2 4 5.3 5 3.6 6.2C1.6 7.6 .5 8.6 .5 10H6.4"/><path transform="translate(586.81 565.90) scale(1.233 1.020)" d="M3.3 0C1.5 0 .6 2 .6 5C.6 8 1.5 10 3.3 10C5.1 10 6 8 6 5C6 2 5.1 0 3.3 0Z"/></g>
<path d="M577.3 578.9L594.9 578.9"/>
<path d="M577.3 578.9L492.3 617.0"/>
<g class="t"><path transform="translate(578.76 584.70) scale(1.233 1.020)" d="M.6 2.5C.6 .9 1.8 0 3.4 0C5 0 6.2 .9 6.2 2.5C6.2 4 5.3 5 3.6 6.2C1.6 7.6 .5 8.6 .5 10H6.4"/><path transform="translate(586.51 584.70) scale(1.233 1.020)" d="M1.6 1.8L3.6 0V10M2.3 10H4.9"/></g>
<path d="M577.3 597.7L594.9 597.7"/>
<path d="M577.3 597.7L533.0 617.5"/>
<g class="t"><path transform="translate(577.51 601.40) scale(1.233 1.020)" d="M.6 2.5C.6 .9 1.8 0 3.4 0C5 0 6.2 .9 6.2 2.5C6.2 4 5.3 5 3.6 6.2C1.6 7.6 .5 8.6 .5 10H6.4"/><path transform="translate(586.81 601.40) scale(1.233 1.020)" d="M.6 2.5C.6 .9 1.8 0 3.4 0C5 0 6.2 .9 6.2 2.5C6.2 4 5.3 5 3.6 6.2C1.6 7.6 .5 8.6 .5 10H6.4"/></g>
<path d="M577.3 614.4L594.9 614.4"/>
<path d="M577.3 614.4L501.2 645.0"/>
<g class="t"><path transform="translate(577.51 619.20) scale(1.233 1.020)" d="M.6 2.5C.6 .9 1.8 0 3.4 0C5 0 6.2 .9 6.2 2.5C6.2 4 5.3 5 3.6 6.2C1.6 7.6 .5 8.6 .5 10H6.4"/><path transform="translate(586.81 619.20) scale(1.233 1.020)" d="M.8 1.6C1.4 .6 2.3 0 3.4 0C5 0 6 1 6 2.4C6 3.8 5 4.7 3.2 4.7C5.2 4.7 6.3 5.8 6.3 7.3C6.3 8.9 5.1 10 3.4 10C2.1 10 1 9.4 .4 8.3"/></g>
<path d="M577.3 632.2L594.9 632.2"/>
<path d="M577.3 632.2L502.0 662.5"/>
<g class="t"><path transform="translate(577.51 639.20) scale(1.233 1.020)" d="M.6 2.5C.6 .9 1.8 0 3.4 0C5 0 6.2 .9 6.2 2.5C6.2 4 5.3 5 3.6 6.2C1.6 7.6 .5 8.6 .5 10H6.4"/><path transform="translate(586.81 639.20) scale(1.233 1.020)" d="M4.9 10V0L.3 7H6.8"/></g>
<path d="M577.3 652.2L594.9 652.2"/>
<path d="M577.3 652.2L427.0 685.3"/>
<g class="t"><path transform="translate(577.51 656.40) scale(1.233 1.020)" d="M.6 2.5C.6 .9 1.8 0 3.4 0C5 0 6.2 .9 6.2 2.5C6.2 4 5.3 5 3.6 6.2C1.6 7.6 .5 8.6 .5 10H6.4"/><path transform="translate(586.81 656.40) scale(1.233 1.020)" d="M5.8 0H1.2L.8 4.5C1.4 3.8 2.4 3.5 3.4 3.5C5.1 3.5 6.3 4.8 6.3 6.7C6.3 8.6 5.1 10 3.4 10C2.1 10 1 9.4 .4 8.3"/></g>
<path d="M577.3 669.4L594.9 669.4"/>
<path d="M577.3 669.4L481.2 699.6"/>
<g class="t"><path transform="translate(577.51 676.30) scale(1.233 1.020)" d="M.6 2.5C.6 .9 1.8 0 3.4 0C5 0 6.2 .9 6.2 2.5C6.2 4 5.3 5 3.6 6.2C1.6 7.6 .5 8.6 .5 10H6.4"/><path transform="translate(586.81 676.30) scale(1.233 1.020)" d="M5.8 1.2C5.3 .4 4.5 0 3.6 0C1.5 0 .5 2.2 .5 5.5C.5 8.5 1.6 10 3.4 10C5.1 10 6.3 8.7 6.3 6.9C6.3 5.1 5.1 3.9 3.5 3.9C2 3.9 .7 5 .5 6.5"/></g>
<path d="M577.3 689.3L594.9 689.3"/>
<path d="M577.3 689.3L540.0 700.0"/>
<g class="t"><path transform="translate(577.51 745.60) scale(1.233 1.020)" d="M.6 2.5C.6 .9 1.8 0 3.4 0C5 0 6.2 .9 6.2 2.5C6.2 4 5.3 5 3.6 6.2C1.6 7.6 .5 8.6 .5 10H6.4"/><path transform="translate(586.81 745.60) scale(1.233 1.020)" d="M.4 0H6.4L2.6 10"/></g>
<path d="M577.3 758.6L594.9 758.6"/>
<g class="t"><path transform="translate(577.81 765.30) scale(1.233 1.020)" d="M.6 2.5C.6 .9 1.8 0 3.4 0C5 0 6.2 .9 6.2 2.5C6.2 4 5.3 5 3.6 6.2C1.6 7.6 .5 8.6 .5 10H6.4"/><path transform="translate(587.11 765.30) scale(1.233 1.020)" d="M3.4 0C1.9 0 .9 1 .9 2.3C.9 3.6 1.9 4.6 3.4 4.6C4.9 4.6 5.9 3.6 5.9 2.3C5.9 1 4.9 0 3.4 0ZM3.4 4.6C1.6 4.6 .4 5.7 .4 7.3C.4 8.9 1.6 10 3.4 10C5.2 10 6.4 8.9 6.4 7.3C6.4 5.7 5.2 4.6 3.4 4.6Z"/></g>
<path d="M577.5 758.6V778.3H594.9"/>
<path d="M577.3 758.6L440.5 707.8"/>
<g class="t"><path transform="translate(187.61 133.30) scale(1.233 1.020)" d="M.6 2.5C.6 .9 1.8 0 3.4 0C5 0 6.2 .9 6.2 2.5C6.2 4 5.3 5 3.6 6.2C1.6 7.6 .5 8.6 .5 10H6.4"/><path transform="translate(196.91 133.30) scale(1.233 1.020)" d="M2.2 10L5.6 5.2C6.1 4.4 6.3 3.8 6.3 3.1C6.3 1.3 5.1 0 3.4 0C1.7 0 .5 1.3 .5 3.1C.5 4.9 1.7 6.1 3.3 6.1C4.3 6.1 5.2 5.7 5.8 4.9"/></g>
<path d="M187.5 146.3L205.6 146.3"/>
<g class="t"><path transform="translate(187.31 153.10) scale(1.233 1.020)" d="M1.6 1.8L3.6 0V10M2.3 10H4.9"/><path transform="translate(195.66 153.10) scale(1.233 1.020)" d="M5.8 1.2C5.3 .4 4.5 0 3.6 0C1.5 0 .5 2.2 .5 5.5C.5 8.5 1.6 10 3.4 10C5.1 10 6.3 8.7 6.3 6.9C6.3 5.1 5.1 3.9 3.5 3.9C2 3.9 .7 5 .5 6.5"/></g>
<path d="M205.4 146.3V166.1H187.5"/>
<path d="M205.6 146.3L326.7 231.2"/>
<g class="t"><path transform="translate(187.61 174.40) scale(1.233 1.020)" d="M.8 1.6C1.4 .6 2.3 0 3.4 0C5 0 6 1 6 2.4C6 3.8 5 4.7 3.2 4.7C5.2 4.7 6.3 5.8 6.3 7.3C6.3 8.9 5.1 10 3.4 10C2.1 10 1 9.4 .4 8.3"/><path transform="translate(196.91 174.40) scale(1.233 1.020)" d="M3.3 0C1.5 0 .6 2 .6 5C.6 8 1.5 10 3.3 10C5.1 10 6 8 6 5C6 2 5.1 0 3.3 0Z"/></g>
<path d="M187.5 187.4L205.6 187.4"/>
<g class="t"><path transform="translate(188.86 194.40) scale(1.233 1.020)" d="M.8 1.6C1.4 .6 2.3 0 3.4 0C5 0 6 1 6 2.4C6 3.8 5 4.7 3.2 4.7C5.2 4.7 6.3 5.8 6.3 7.3C6.3 8.9 5.1 10 3.4 10C2.1 10 1 9.4 .4 8.3"/><path transform="translate(196.61 194.40) scale(1.233 1.020)" d="M1.6 1.8L3.6 0V10M2.3 10H4.9"/></g>
<path d="M205.4 187.4V207.4H187.5"/>
<path d="M205.6 187.4L370.9 257.0"/>
<g class="t"><path transform="translate(187.61 247.40) scale(1.233 1.020)" d="M.8 1.6C1.4 .6 2.3 0 3.4 0C5 0 6 1 6 2.4C6 3.8 5 4.7 3.2 4.7C5.2 4.7 6.3 5.8 6.3 7.3C6.3 8.9 5.1 10 3.4 10C2.1 10 1 9.4 .4 8.3"/><path transform="translate(196.91 247.40) scale(1.233 1.020)" d="M.6 2.5C.6 .9 1.8 0 3.4 0C5 0 6.2 .9 6.2 2.5C6.2 4 5.3 5 3.6 6.2C1.6 7.6 .5 8.6 .5 10H6.4"/></g>
<path d="M187.5 260.4L205.6 260.4"/>
<g class="t"><path transform="translate(187.61 267.40) scale(1.233 1.020)" d="M.8 1.6C1.4 .6 2.3 0 3.4 0C5 0 6 1 6 2.4C6 3.8 5 4.7 3.2 4.7C5.2 4.7 6.3 5.8 6.3 7.3C6.3 8.9 5.1 10 3.4 10C2.1 10 1 9.4 .4 8.3"/><path transform="translate(196.91 267.40) scale(1.233 1.020)" d="M.8 1.6C1.4 .6 2.3 0 3.4 0C5 0 6 1 6 2.4C6 3.8 5 4.7 3.2 4.7C5.2 4.7 6.3 5.8 6.3 7.3C6.3 8.9 5.1 10 3.4 10C2.1 10 1 9.4 .4 8.3"/></g>
<path d="M187.5 280.4L205.6 280.4"/>
<g class="t"><path transform="translate(187.61 286.40) scale(1.233 1.020)" d="M.8 1.6C1.4 .6 2.3 0 3.4 0C5 0 6 1 6 2.4C6 3.8 5 4.7 3.2 4.7C5.2 4.7 6.3 5.8 6.3 7.3C6.3 8.9 5.1 10 3.4 10C2.1 10 1 9.4 .4 8.3"/><path transform="translate(196.91 286.40) scale(1.233 1.020)" d="M4.9 10V0L.3 7H6.8"/></g>
<path d="M187.5 299.4L205.6 299.4"/>
<g class="t"><path transform="translate(187.61 306.40) scale(1.233 1.020)" d="M.8 1.6C1.4 .6 2.3 0 3.4 0C5 0 6 1 6 2.4C6 3.8 5 4.7 3.2 4.7C5.2 4.7 6.3 5.8 6.3 7.3C6.3 8.9 5.1 10 3.4 10C2.1 10 1 9.4 .4 8.3"/><path transform="translate(196.91 306.40) scale(1.233 1.020)" d="M3.3 0C1.5 0 .6 2 .6 5C.6 8 1.5 10 3.3 10C5.1 10 6 8 6 5C6 2 5.1 0 3.3 0Z"/></g>
<path d="M187.5 319.4L205.6 319.4"/>
<path d="M205.4 260.4L205.4 319.4"/>
<path d="M205.6 260.4L298.6 309.5"/>
<g class="t"><path transform="translate(192.76 487.70) scale(1.233 1.020)" d="M3.4 0C1.9 0 .9 1 .9 2.3C.9 3.6 1.9 4.6 3.4 4.6C4.9 4.6 5.9 3.6 5.9 2.3C5.9 1 4.9 0 3.4 0ZM3.4 4.6C1.6 4.6 .4 5.7 .4 7.3C.4 8.9 1.6 10 3.4 10C5.2 10 6.4 8.9 6.4 7.3C6.4 5.7 5.2 4.6 3.4 4.6Z"/></g>
<path d="M187.5 500.7L205.6 500.7"/>
<path d="M205.6 500.7L394.0 559.7"/>
<g class="t"><path transform="translate(187.61 520.50) scale(1.233 1.020)" d="M.8 1.6C1.4 .6 2.3 0 3.4 0C5 0 6 1 6 2.4C6 3.8 5 4.7 3.2 4.7C5.2 4.7 6.3 5.8 6.3 7.3C6.3 8.9 5.1 10 3.4 10C2.1 10 1 9.4 .4 8.3"/><path transform="translate(196.91 520.50) scale(1.233 1.020)" d="M5.8 0H1.2L.8 4.5C1.4 3.8 2.4 3.5 3.4 3.5C5.1 3.5 6.3 4.8 6.3 6.7C6.3 8.6 5.1 10 3.4 10C2.1 10 1 9.4 .4 8.3"/></g>
<path d="M187.5 533.5L205.6 533.5"/>
<g class="t"><path transform="translate(187.61 539.30) scale(1.233 1.020)" d="M.8 1.6C1.4 .6 2.3 0 3.4 0C5 0 6 1 6 2.4C6 3.8 5 4.7 3.2 4.7C5.2 4.7 6.3 5.8 6.3 7.3C6.3 8.9 5.1 10 3.4 10C2.1 10 1 9.4 .4 8.3"/><path transform="translate(196.91 539.30) scale(1.233 1.020)" d="M5.8 1.2C5.3 .4 4.5 0 3.6 0C1.5 0 .5 2.2 .5 5.5C.5 8.5 1.6 10 3.4 10C5.1 10 6.3 8.7 6.3 6.9C6.3 5.1 5.1 3.9 3.5 3.9C2 3.9 .7 5 .5 6.5"/></g>
<path d="M205.4 533.5V552.3H187.5"/>
<path d="M205.6 533.5L235.3 549.4"/>
<g class="t"><path transform="translate(187.61 555.60) scale(1.233 1.020)" d="M.8 1.6C1.4 .6 2.3 0 3.4 0C5 0 6 1 6 2.4C6 3.8 5 4.7 3.2 4.7C5.2 4.7 6.3 5.8 6.3 7.3C6.3 8.9 5.1 10 3.4 10C2.1 10 1 9.4 .4 8.3"/><path transform="translate(196.91 555.60) scale(1.233 1.020)" d="M.4 0H6.4L2.6 10"/></g>
<path d="M187.5 568.6L205.6 568.6"/>
<path d="M205.6 568.6L372.0 645.2"/>
<g class="t"><path transform="translate(187.61 576.30) scale(1.233 1.020)" d="M.8 1.6C1.4 .6 2.3 0 3.4 0C5 0 6 1 6 2.4C6 3.8 5 4.7 3.2 4.7C5.2 4.7 6.3 5.8 6.3 7.3C6.3 8.9 5.1 10 3.4 10C2.1 10 1 9.4 .4 8.3"/><path transform="translate(196.91 576.30) scale(1.233 1.020)" d="M3.4 0C1.9 0 .9 1 .9 2.3C.9 3.6 1.9 4.6 3.4 4.6C4.9 4.6 5.9 3.6 5.9 2.3C5.9 1 4.9 0 3.4 0ZM3.4 4.6C1.6 4.6 .4 5.7 .4 7.3C.4 8.9 1.6 10 3.4 10C5.2 10 6.4 8.9 6.4 7.3C6.4 5.7 5.2 4.6 3.4 4.6Z"/></g>
<path d="M187.5 589.3L205.6 589.3"/>
<g class="t"><path transform="translate(187.61 596.30) scale(1.233 1.020)" d="M.8 1.6C1.4 .6 2.3 0 3.4 0C5 0 6 1 6 2.4C6 3.8 5 4.7 3.2 4.7C5.2 4.7 6.3 5.8 6.3 7.3C6.3 8.9 5.1 10 3.4 10C2.1 10 1 9.4 .4 8.3"/><path transform="translate(196.91 596.30) scale(1.233 1.020)" d="M2.2 10L5.6 5.2C6.1 4.4 6.3 3.8 6.3 3.1C6.3 1.3 5.1 0 3.4 0C1.7 0 .5 1.3 .5 3.1C.5 4.9 1.7 6.1 3.3 6.1C4.3 6.1 5.2 5.7 5.8 4.9"/></g>
<path d="M205.4 589.3V609.3H187.5"/>
<path d="M205.6 589.3L383.0 659.5"/>
</g>
</svg>
</body></html>
